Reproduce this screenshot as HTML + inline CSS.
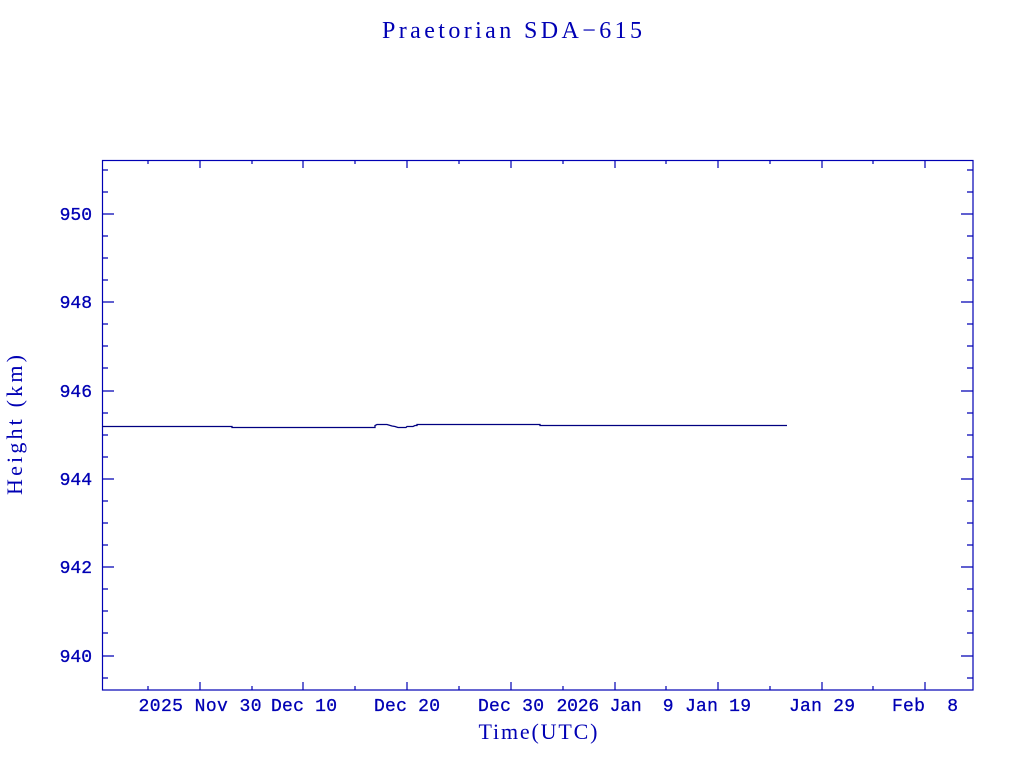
<!DOCTYPE html>
<html><head><style>body{margin:0;background:#fff}svg{display:block}</style></head><body>
<svg width="1024" height="768" xmlns="http://www.w3.org/2000/svg">
<rect width="1024" height="768" fill="#fff"/>
<g fill="#0000b4" font-family="Liberation Serif, serif">
<text x="512" y="38" font-size="24" text-anchor="middle" textLength="260">Praetorian SDA−615</text>
<text x="538" y="739" font-size="22" text-anchor="middle" textLength="119">Time(UTC)</text>
<text transform="translate(22,425) rotate(-90)" font-size="22" text-anchor="middle" textLength="140">Height (km)</text>
</g>
<g fill="#0000b4" font-family="Liberation Mono, monospace" font-size="18" text-anchor="middle" stroke="#0000b4" stroke-width="0.3">
<text x="200" y="711" textLength="123">2025 Nov 30</text>
<text x="304" y="711" textLength="66">Dec 10</text>
<text x="407" y="711" textLength="66">Dec 20</text>
<text x="511" y="711" textLength="66">Dec 30</text>
<text x="615" y="711" textLength="117" xml:space="preserve">2026 Jan  9</text>
<text x="718" y="711" textLength="66">Jan 19</text>
<text x="822" y="711" textLength="66">Jan 29</text>
<text x="925" y="711" textLength="66" xml:space="preserve">Feb  8</text>
<g text-anchor="end">
<text x="92" y="220">950</text>
<text x="92" y="308">948</text>
<text x="92" y="397">946</text>
<text x="92" y="485">944</text>
<text x="92" y="573">942</text>
<text x="92" y="662">940</text>
</g>
</g>
<g stroke="#0000b4" stroke-width="1.2" fill="none">
<rect x="102.5" y="160.5" width="870.5" height="529.5"/>
<path d="
M102 170h6M102 192h6M102 214h12M102 236h6M102 258h6M102 280h6M102 302h12M102 324h6M102 346h6M102 368h6M102 391h12M102 413h6M102 435h6M102 457h6M102 479h12M102 501h6M102 523h6M102 545h6M102 567h12M102 589h6M102 611h6M102 633h6M102 656h12M102 678h6
M973 170h-6M973 192h-6M973 214h-12M973 236h-6M973 258h-6M973 280h-6M973 302h-12M973 324h-6M973 346h-6M973 368h-6M973 391h-12M973 413h-6M973 435h-6M973 457h-6M973 479h-12M973 501h-6M973 523h-6M973 545h-6M973 567h-12M973 589h-6M973 611h-6M973 633h-6M973 656h-12M973 678h-6
M148 690v-4M200 690v-8M252 690v-4M303 690v-8M355 690v-4M407 690v-8M459 690v-4M511 690v-8M563 690v-4M615 690v-8M666 690v-4M718 690v-8M770 690v-4M822 690v-8M873 690v-4M925 690v-8
M148 160v4M200 160v8M252 160v4M303 160v8M355 160v4M407 160v8M459 160v4M511 160v8M563 160v4M615 160v8M666 160v4M718 160v8M770 160v4M822 160v8M873 160v4M925 160v8"/>
</g>
<path d="M102 426.5H232V427.5H375V425.5L377 424.5H387L392 426L395 426.5L398 427.5H406L407 426.5H413L415 425.5H417V424.5H540V425.5H787" stroke="#000080" stroke-width="1.3" fill="none"/>
</svg>
</body></html>
